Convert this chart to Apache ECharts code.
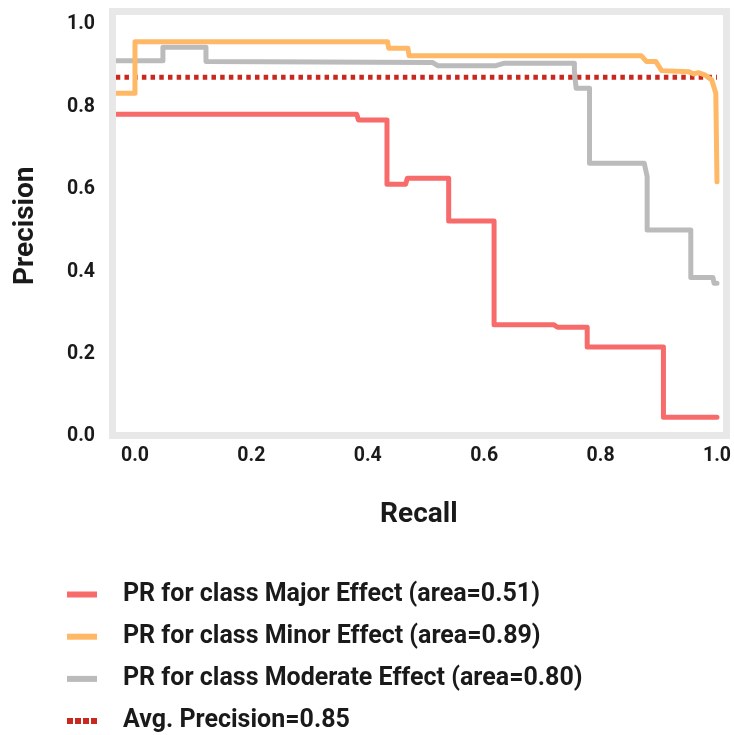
<!DOCTYPE html>
<html>
<head>
<meta charset="utf-8">
<script src="https://cdn.jsdelivr.net/npm/echarts@6/dist/echarts.min.js"></script>
<style>
html,body{margin:0;padding:0;background:#fff;}
#chart{width:734px;height:735px;}
</style>
</head>
<body>
<div id="chart"></div>
<script>
// ---- data ----
const tickValues = [0, 0.2, 0.4, 0.6, 0.8, 1.0];
const seriesNames = [
  'PR for class Major Effect (area=0.51)',
  'PR for class Minor Effect (area=0.89)',
  'PR for class Moderate Effect (area=0.80)',
  'Avg. Precision=0.85'
];
const majorPR = [
  [-0.033, 0.782], [0.381, 0.782], [0.384, 0.768], [0.433, 0.768], [0.433, 0.612],
  [0.465, 0.612], [0.468, 0.627], [0.539, 0.627], [0.539, 0.523], [0.617, 0.523],
  [0.617, 0.271], [0.720, 0.271], [0.726, 0.265], [0.777, 0.265], [0.777, 0.217],
  [0.908, 0.217], [0.908, 0.047], [1.0, 0.047]
];
const minorPR = [
  [-0.033, 0.833], [0.0, 0.833], [0.0, 0.958], [0.434, 0.958], [0.436, 0.942],
  [0.469, 0.942], [0.471, 0.924], [0.870, 0.924], [0.879, 0.910], [0.895, 0.910],
  [0.905, 0.888], [0.952, 0.885], [0.960, 0.880], [0.968, 0.883], [0.980, 0.877],
  [0.991, 0.865], [0.998, 0.833], [1.0, 0.618]
];
const moderatePR = [
  [-0.033, 0.912], [0.048, 0.912], [0.048, 0.945], [0.122, 0.945], [0.122, 0.910],
  [0.511, 0.908], [0.520, 0.900], [0.620, 0.900], [0.635, 0.906], [0.755, 0.906],
  [0.755, 0.885], [0.758, 0.845], [0.781, 0.845], [0.781, 0.663], [0.875, 0.663],
  [0.880, 0.631], [0.880, 0.501], [0.955, 0.501], [0.955, 0.386], [0.993, 0.386],
  [0.995, 0.372], [1.0, 0.372]
];
const avgPrecision = [[-0.033, 0.872], [1.0, 0.872]];

const colors = ['#f76b6b', '#ffb866', '#bbbbbb', '#c8281e'];

// ---- chart ----
const chart = echarts.init(document.getElementById('chart'));
const font = 'Roboto';
const textColor = '#1a1a1a';

function lineSeries(name, data, color, extra) {
  return Object.assign({
    name: name,
    type: 'line',
    data: data,
    showSymbol: false,
    symbol: 'none',
    color: color,
    lineStyle: { color: color, width: 5, join: 'round', cap: 'round' },
    emphasis: { disabled: true },
    silent: true,
    animation: false
  }, extra || {});
}

const option = {
  backgroundColor: '#ffffff',
  animation: false,
  grid: { left: 116, top: 15, width: 607, height: 421.5, containLabel: false },
  xAxis: {
    type: 'value',
    min: -0.0326,
    max: 1.008,
    name: 'Recall',
    nameLocation: 'middle',
    nameGap: 64,
    nameTextStyle: { fontFamily: font, fontWeight: 'bold', fontSize: 28, color: textColor },
    axisLine: { show: false },
    axisTick: { show: false },
    splitLine: { show: false },
    axisLabel: {
      customValues: tickValues,
      formatter: v => v.toFixed(1),
      fontFamily: font, fontWeight: 'bold', fontSize: 19.5, color: textColor,
      margin: 10,
      showMinLabel: true, showMaxLabel: true
    }
  },
  yAxis: {
    type: 'value',
    min: 0,
    max: 1.023,
    name: 'Precision',
    nameLocation: 'middle',
    nameGap: 76,
    nameTextStyle: { fontFamily: font, fontWeight: 'bold', fontSize: 28, color: textColor },
    axisLine: { show: false },
    axisTick: { show: false },
    splitLine: { show: false },
    axisLabel: {
      customValues: tickValues,
      formatter: v => v.toFixed(1),
      fontFamily: font, fontWeight: 'bold', fontSize: 19.5, color: textColor,
      margin: 21,
      showMinLabel: true, showMaxLabel: true
    }
  },
  legend: {
    orient: 'vertical',
    left: 62,
    top: 577,
    height: 200,
    itemWidth: 30,
    itemHeight: 6,
    itemGap: 17.2,
    selectedMode: false,
    textStyle: { fontFamily: font, fontWeight: 'bold', fontSize: 25, color: textColor, padding: [0, 0, 0, 21], lineHeight: 25 },
    data: [
      { name: seriesNames[0], icon: 'rect' },
      { name: seriesNames[1], icon: 'rect' },
      { name: seriesNames[2], icon: 'rect' },
      { name: seriesNames[3], icon: 'path://M0,0h6v6h-6z M8,0h6v6h-6z M16,0h6v6h-6z M24,0h6v6h-6z' }
    ]
  },
  graphic: [{
    type: 'rect',
    z: 100,
    silent: true,
    shape: { x: 112.5, y: 11.5, width: 614, height: 424 },
    style: { fill: 'transparent', stroke: '#e8e8e8', lineWidth: 7 }
  }],
  series: [
    lineSeries(seriesNames[3], avgPrecision, colors[3], {
      lineStyle: { color: colors[3], width: 5, type: [4.5, 4.2], cap: 'butt' }, z: 1
    }),
    lineSeries(seriesNames[0], majorPR, colors[0], { z: 2 }),
    lineSeries(seriesNames[2], moderatePR, colors[2], { z: 3 }),
    lineSeries(seriesNames[1], minorPR, colors[1], { z: 4 })
  ]
};
chart.setOption(option);
</script>
</body>
</html>
